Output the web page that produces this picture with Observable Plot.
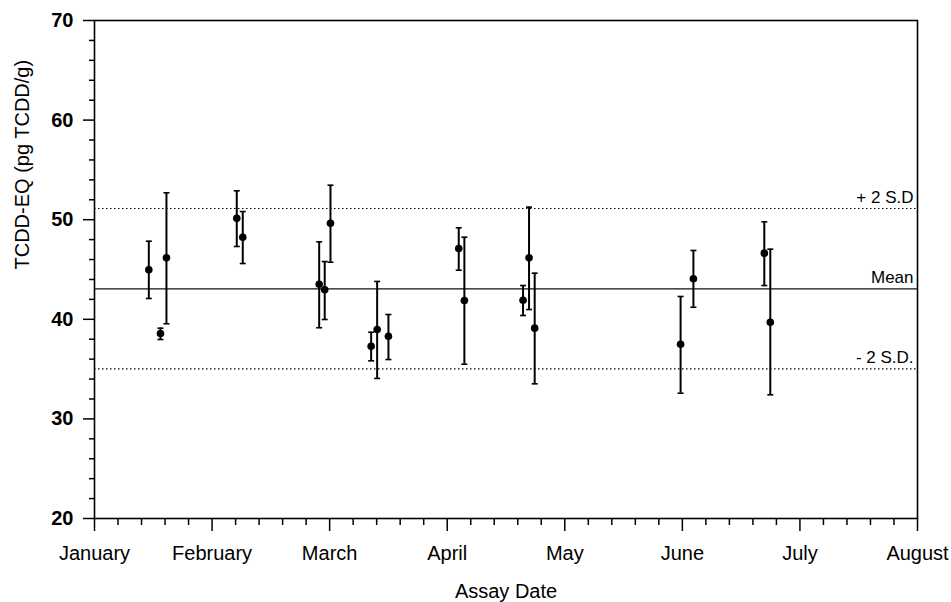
<!DOCTYPE html>
<html>
<head>
<meta charset="utf-8">
<script src="https://cdn.jsdelivr.net/npm/d3@7"></script>
<script src="https://cdn.jsdelivr.net/npm/@observablehq/plot@0.6"></script>
<style>
  body { margin: 0; background: #fff; }
  svg { font-family: "Liberation Sans", Arial, Helvetica, sans-serif; }
</style>
</head>
<body>
<div id="chart"></div>
<script>
// Month labels for the (evenly spaced) x axis; position 0 = January
const months = ["January", "February", "March", "April", "May", "June", "July", "August"];

// Assay date, expressed as position along the month axis
const assayMonth = [0.462, 0.561, 0.612, 1.210, 1.261, 1.911, 1.958, 2.007, 2.353, 2.404,
                    2.500, 3.098, 3.146, 3.645, 3.696, 3.744, 4.985, 5.094, 5.697, 5.748];
// TCDD-EQ (pg TCDD/g) values
const tcdd  = [44.97, 38.57, 46.17, 50.15, 48.24, 43.52, 42.96, 49.65, 37.30, 38.98,
               38.30, 47.11, 41.89, 41.92, 46.17, 39.11, 37.50, 44.07, 46.64, 39.71];
// error bar lower / upper ends
const lower = [42.09, 37.97, 39.55, 47.31, 45.60, 39.15, 39.98, 45.73, 35.83, 34.06,
               35.96, 44.93, 35.49, 40.38, 40.98, 33.52, 32.58, 41.21, 43.39, 32.42];
const upper = [47.84, 39.11, 52.70, 52.90, 50.82, 47.78, 45.80, 53.46, 38.70, 43.80,
               40.48, 49.19, 48.24, 43.39, 51.26, 44.63, 42.29, 46.91, 49.79, 47.04];

// reference lines
const meanValue = 43.05;
const sdValues = [51.12, 35.02];
const refValues = [51.12, 43.05, 35.02];
const refLabels = ["+ 2 S.D", "Mean", "- 2 S.D."];

// tick labels
const yTicks = [20, 30, 40, 50, 60, 70];
const xTicks = [0, 1, 2, 3, 4, 5, 6, 7];

const data = assayMonth.map((m, i) => ({x: m, y: tcdd[i], lo: lower[i], hi: upper[i]}));
const refs = refValues.map((v, i) => ({v, label: refLabels[i]}));

const xMinor = d3.range(0, 35).map(i => i / 5).filter(v => Math.abs(v - Math.round(v)) > 1e-6);
const yMinor = d3.range(20, 71, 2).filter(v => v % 10 !== 0);

// horizontal cap symbol for the error bars
const cap = {
  draw(ctx, size) {
    const r = Math.sqrt(size / Math.PI);
    ctx.moveTo(-r, 0);
    ctx.lineTo(r, 0);
  }
};

const chart = Plot.plot({
  width: 951,
  height: 602,
  marginLeft: 94,
  marginRight: 34,
  marginTop: 20,
  marginBottom: 84,
  style: {fontFamily: '"Liberation Sans", Arial, sans-serif', fontSize: "20px", color: "#000", background: "#fff"},
  x: {domain: [0, 7]},
  y: {domain: [20, 70]},
  marks: [
    // reference lines
    Plot.ruleY(sdValues, {stroke: "#000", strokeWidth: 1.1, strokeDasharray: "1.5,2.5"}),
    Plot.ruleY([meanValue], {stroke: "#111", strokeWidth: 1.2}),
    Plot.text(refs, {
      x: 7, y: "v", text: "label", textAnchor: "end", lineAnchor: "bottom",
      dx: -4, dy: -6, fontSize: 17, fill: "#000"
    }),
    // axes
    Plot.axisY(yTicks, {tickSize: 11, tickPadding: 10, fontSize: 20, fontWeight: "bold", strokeWidth: 1.5, label: null}),
    Plot.axisY(yMinor, {tickSize: 5, tickFormat: () => "", strokeWidth: 1.5, label: null}),
    Plot.axisX(xTicks, {tickSize: 13, tickPadding: 14, fontSize: 20, tickFormat: i => months[i], strokeWidth: 1.5, label: null}),
    Plot.axisX(xMinor, {tickSize: 7, tickFormat: () => "", strokeWidth: 1.5, label: null}),
    Plot.frame({stroke: "#000", strokeWidth: 1.6}),
    // axis titles
    Plot.text(["Assay Date"], {frameAnchor: "bottom", lineAnchor: "bottom", dy: 79, fontSize: 20, fill: "#000"}),
    Plot.text(["TCDD-EQ (pg TCDD/g)"], {frameAnchor: "left", rotate: -90, lineAnchor: "bottom", dx: -66, fontSize: 20, fill: "#000"}),
    // error bars
    Plot.ruleX(data, {x: "x", y1: "lo", y2: "hi", stroke: "#000", strokeWidth: 2}),
    Plot.dot(data, {x: "x", y: "lo", symbol: cap, r: 3, stroke: "#000", strokeWidth: 1.6, fill: "none"}),
    Plot.dot(data, {x: "x", y: "hi", symbol: cap, r: 3, stroke: "#000", strokeWidth: 1.6, fill: "none"}),
    // points
    Plot.dot(data, {x: "x", y: "y", r: 3.8, fill: "#000", stroke: null})
  ]
});

document.getElementById("chart").appendChild(chart);
</script>
</body>
</html>
